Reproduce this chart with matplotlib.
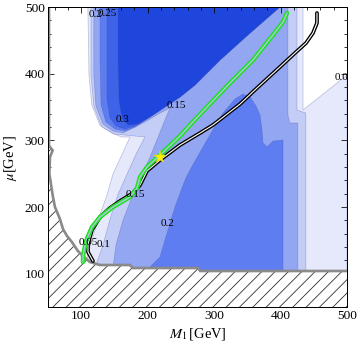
import matplotlib
matplotlib.use('Agg')
import matplotlib.pyplot as plt
from matplotlib.ticker import MultipleLocator

plt.rcParams['font.family'] = ['Liberation Serif', 'DejaVu Serif']
plt.rcParams['mathtext.fontset'] = 'stix'
plt.rcParams['hatch.linewidth'] = 0.8

# ---------------- contour regions (M1 [GeV], mu [GeV]) ----------------
r05_m1 = [110, 433.8, 433.8, 500, 500, 98, 107, 116, 128, 138.8, 147.8, 161, 173.4, 161, 146, 128, 116, 111.7]
r05_mu = [500, 500, 345.5, 398, 30, 30, 117.5, 150.5, 188, 218, 249.5, 278, 305, 305, 311, 323, 353, 398]

r10_m1 = [114.7, 424.7, 424.7, 438, 438, 120.7, 123.7, 132.8, 143, 155, 169, 184, 196, 181, 150, 131, 119, 114.7]
r10_mu = [500, 500, 345.5, 341, 30, 30, 117.5, 143, 180.5, 218, 249.5, 282.5, 305, 306.5, 309.5, 320, 351.5, 398]

r15_m1 = [119, 411, 411, 414, 426, 426, 146, 147.8, 152.3, 163, 176.5, 191.5, 203.5, 214, 223, 233.6,
          218.6, 196, 178, 163, 147.8, 132.8, 122.2, 119]
r15_mu = [500, 500, 338, 326, 326, 30, 30, 108.5, 143, 180.5, 215, 248, 275, 300.5, 323, 348.5,
          341, 327.5, 318.5, 311, 314, 324.5, 351.5, 398]

r20_m1 = [128.3, 399, 354, 308.9, 271.2, 248.7, 226, 203.5, 181, 166, 151, 137.3, 129.8, 128.3]
r20_mu = [500, 500, 461, 420.5, 383, 365, 350, 335, 320, 314, 317, 327.5, 353, 420.5]

r20b_m1 = [203.5, 203.5, 218.6, 226, 241.1, 256.2, 263.7, 289.3, 313.4, 331.4, 343.5, 354.1, 363, 369,
           372.1, 373.6, 379.6, 388.6, 403.7, 403.7]
r20b_mu = [30, 110, 125, 150.5, 200, 240.5, 255.5, 300.5, 341, 362, 369.5, 365, 351.5, 338,
           315.5, 296, 290, 299, 300.5, 30]

r25_m1 = [138.8, 399, 354, 308.9, 271.2, 248.7, 226, 203.5, 181, 166, 152.3, 143.3, 138.8, 138.8]
r25_mu = [500, 500, 461, 420.5, 383, 365, 350, 335, 321.5, 317, 321.5, 333.5, 360.5, 420.5]

r30_m1 = [155.4, 399, 354, 308.9, 271.2, 248.7, 226, 203.5, 185.5, 170.4, 161.4, 156.9, 155.4]
r30_mu = [500, 500, 461, 420.5, 383, 365, 350, 335, 324.5, 323, 333.5, 360.5, 420.5]

# ---------------- excluded (hatched) region ----------------
excl_m1 = [50, 51.5, 51.5, 57, 53, 52, 57.5, 60.5, 68, 72.6, 78.6, 86, 95, 102.7, 113, 128, 173, 178,
           276, 279, 500, 500, 50]
excl_mu = [500, 500, 292, 285, 275, 250, 215, 200, 182, 167, 156.5, 147.5, 134, 126.5, 117.5, 113, 113,
           108.5, 108.5, 104, 104, 40, 40]

# ---------------- curves ----------------
black_m1 = [454.8, 454.8, 448.8, 438.3, 421.7, 399, 364.5, 339, 298.3, 278.8, 248.7, 218.6, 199, 188.5,
            178, 158.4, 143.3, 128.3, 116.2, 110.2, 110.2, 117.7]
black_mu = [491, 476, 461, 446, 431, 410, 378.5, 354.5, 323, 311, 293, 270.5, 254, 233,
            221, 209, 198.5, 185, 165.5, 144.5, 132.5, 119]

green_m1 = [409.7, 403.7, 388.6, 358.5, 323.9, 289.3, 263.7, 248.7, 218.6, 199, 188.5, 184, 173.4,
            147.8, 128.3, 116.2, 107.2, 102.7, 102.7]
green_mu = [491, 477.5, 458, 420.5, 386, 350, 323, 306.5, 278, 260, 245, 228.5, 215,
            200, 185, 170, 149, 126.5, 117.5]

star_m1 = [218.6]
star_mu = [275]

# ---------------- contour labels ----------------
lab_text = ['0.2', '0.25', '0.3', '0.15', '0.15', '0.2', '0.05', '0.1', '0.05']
lab_m1 = [121, 139, 161.5, 243, 181, 230, 110, 133, 481]
lab_mu = [489, 490, 331, 353, 219, 176, 147, 144, 395]
lab_ha = ['center', 'center', 'center', 'center', 'center', 'center', 'center', 'center', 'left']

colors = {
    '05': '#E5E9FB',
    '10': '#C3CDF6',
    '15': '#92A6F2',
    '20': '#5D7DF0',
    '25': '#3E63E8',
    '30': '#1E45DC',
}

fig = plt.figure(figsize=(4.5, 4.35), dpi=80)
ax = fig.add_axes([0.1333, 0.1178, 0.8306, 0.862])
ax.set_xlim(50, 500)
ax.set_ylim(50, 500)

layers = [
    (r05_m1, r05_mu, colors['05']),
    (r10_m1, r10_mu, colors['10']),
    (r15_m1, r15_mu, colors['15']),
    (r20_m1, r20_mu, colors['20']),
    (r20b_m1, r20b_mu, colors['20']),
    (r25_m1, r25_mu, colors['25']),
    (r30_m1, r30_mu, colors['30']),
]
for xs, ys, c in layers:
    ax.fill(xs, ys, facecolor=c, edgecolor=(0.25, 0.3, 0.65, 0.35), lw=0.6, zorder=1)

# excluded region
ax.fill(excl_m1, excl_mu, facecolor='white', edgecolor='#3a3a3a', hatch='//', lw=0, zorder=2)
ax.plot(excl_m1[1:21], excl_mu[1:21], color='#8a8a8a', lw=2.4, zorder=3,
        solid_joinstyle='miter', solid_capstyle='butt')

# curves
ax.plot(black_m1, black_mu, color='black', lw=3.4, zorder=4, solid_capstyle='round')
ax.plot(black_m1, black_mu, color='white', lw=1.0, zorder=4.1, solid_capstyle='round')
ax.plot(green_m1, green_mu, color='#1FE01F', lw=4.0, zorder=5, solid_capstyle='round')
ax.plot(green_m1, green_mu, color='#B8C8F2', lw=1.3, zorder=5.1, alpha=0.9, solid_capstyle='round')
ax.plot(star_m1, star_mu, marker='*', ms=12, color='#FFF200', mec='#E8D000', mew=0.4,
        ls='none', zorder=6)

for t, x, y, h in zip(lab_text, lab_m1, lab_mu, lab_ha):
    ax.text(x, y, t, fontsize=10, ha=h, va='center', zorder=7, clip_on=True)

# axes styling
ax.xaxis.set_major_locator(MultipleLocator(100))
ax.xaxis.set_minor_locator(MultipleLocator(20))
ax.yaxis.set_major_locator(MultipleLocator(100))
ax.yaxis.set_minor_locator(MultipleLocator(20))
ax.tick_params(which='both', direction='in', top=True, right=True, width=0.7, labelsize=12)
ax.tick_params(which='major', length=5.4, pad=3)
ax.tick_params(which='minor', length=3.0)
for s in ax.spines.values():
    s.set_linewidth(0.9)
    s.set_zorder(10)

ax.set_xlabel(r'$M_1\,$[GeV]', fontsize=13)
ax.xaxis.set_label_coords(0.5, -0.062)
ax.set_ylabel(r'$\mu$[GeV]', fontsize=13)
ax.yaxis.set_label_coords(-0.098, 0.497)

fig.savefig('out.png', dpi=80)
